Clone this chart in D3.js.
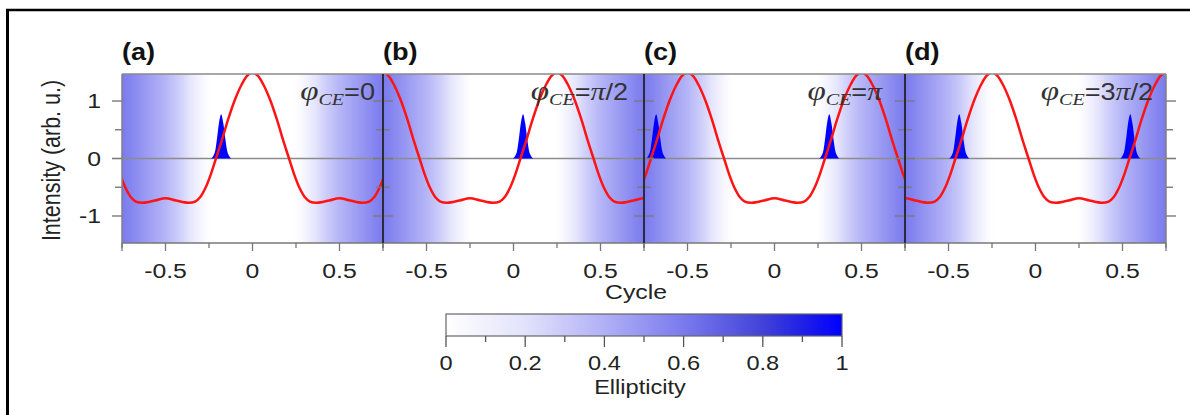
<!DOCTYPE html>
<html>
<head>
<meta charset="utf-8">
<script src="https://cdn.jsdelivr.net/npm/d3@7"></script>
<style>
  html, body { margin: 0; padding: 0; background: #fff; }
  text { font-family: Arial, "Liberation Sans", Helvetica, sans-serif; }
</style>
</head>
<body>
<svg id="fig" width="1190" height="415"></svg>
<script>
// ---- Data -------------------------------------------------------------
// One optical cycle of the driving field (phase in cycles, field in arb. u.)
const wavePhase = [-0.5, -0.44, -0.37, -0.33, -0.30, -0.27, -0.24, -0.21, -0.18, -0.14, -0.10, -0.06, -0.03, 0,
                   0.03, 0.06, 0.10, 0.14, 0.18, 0.21, 0.24, 0.27, 0.30, 0.33, 0.37, 0.44, 0.5];
const waveValue = [-0.69, -0.73, -0.77, -0.75, -0.67, -0.51, -0.28, 0, 0.28, 0.68, 1.03, 1.30, 1.44, 1.50,
                   1.44, 1.30, 1.03, 0.68, 0.28, 0, -0.28, -0.51, -0.67, -0.75, -0.77, -0.73, -0.69];

// Ellipticity of the gating field across the time window (cycles)
const gateCycle       = [-0.75, -0.70, -0.60, -0.50, -0.42, -0.36, -0.31, -0.27, -0.24, 0, 0.24, 0.27, 0.31, 0.36, 0.42, 0.50, 0.60, 0.70, 0.75];
const gateEllipticity = [0.60, 0.56, 0.47, 0.38, 0.28, 0.18, 0.09, 0.03, 0, 0, 0, 0.03, 0.09, 0.18, 0.28, 0.38, 0.47, 0.56, 0.60];

// Attosecond burst profile: offset from burst centre (cycles) and relative height
const burstOffset = [-0.058, -0.045, -0.034, -0.024, -0.012, 0, 0.012, 0.024, 0.034, 0.045, 0.058];
const burstShape  = [0, 0.06, 0.18, 0.45, 0.82, 1, 0.80, 0.44, 0.18, 0.06, 0];
const burstHeight = 0.77;

// Panels: carrier-envelope phase (fraction of a cycle) and burst centres
const panelTags   = ["(a)", "(b)", "(c)", "(d)"];
const panelShift  = [0, 0.25, 0.5, 0.75];
const panelBursts = [[-0.18], [0.055], [-0.68, 0.315], [-0.438, 0.545]];

// Axis ticks
const xTicks      = [-0.75, -0.5, -0.25, 0, 0.25, 0.5, 0.75];
const xTickLabels = [-0.5, 0, 0.5];
const yTicks      = [-1, -0.5, 0, 0.5, 1];
const yTickLabels = [-1, 0, 1];
const cbTicks      = [0, 0.1, 0.2, 0.3, 0.4, 0.5, 0.6, 0.7, 0.8, 0.9, 1];
const cbTickLabels = [0, 0.2, 0.4, 0.6, 0.8, 1];

// ---- Layout -------------------------------------------------------------
const svg = d3.select("#fig");
const plotTop = 74, plotBottom = 243;
const firstLeft = 122, panelW = 261;
const SX = 1.18; // horizontal text stretch of the figure

const y = d3.scaleLinear().domain([-1.47, 1.47]).range([plotBottom, plotTop]);
const xScales = panelTags.map((_, i) =>
  d3.scaleLinear().domain([-0.75, 0.75]).range([firstLeft + i * panelW, firstLeft + (i + 1) * panelW]));

// Ellipticity colour map (white -> blue)
const ellColor = d3.scaleLinear()
  .domain([0, 0.2, 0.4, 0.6, 0.8, 0.9, 1])
  .range(["#ffffff", "#e2e2fc", "#b0b0f6", "#7a7aee", "#4242d8", "#2020e6", "#0000ff"]);

// plain ASCII hyphen for negative tick labels
const num = v => String(v);

function txt(g, x, yy, str, size, anchor, extra) {
  const t = g.append("text")
    .attr("transform", `translate(${x},${yy}) scale(${SX},1)`)
    .attr("text-anchor", anchor || "middle")
    .attr("font-size", size)
    .attr("fill", "#222")
    .text(str);
  if (extra) extra(t);
  return t;
}

// Outer frame
svg.append("rect").attr("x", 0).attr("y", 0).attr("width", 1190).attr("height", 415).attr("fill", "#fff");
svg.append("line").attr("x1", 7.5).attr("x2", 7.5).attr("y1", 9).attr("y2", 415)
  .attr("stroke", "#000").attr("stroke-width", 3);
svg.append("line").attr("x1", 6).attr("x2", 1190).attr("y1", 10).attr("y2", 10)
  .attr("stroke", "#000").attr("stroke-width", 2.5);

const defs = svg.append("defs");

// ---- Panels -------------------------------------------------------------
panelTags.forEach((tag, i) => {
  const x = xScales[i];
  const g = svg.append("g");
  const [x0, x1] = x.range();

  // ellipticity background
  const grad = defs.append("linearGradient")
    .attr("id", "gate" + i).attr("gradientUnits", "userSpaceOnUse")
    .attr("x1", x0).attr("x2", x1).attr("y1", 0).attr("y2", 0);
  gateCycle.forEach((c, k) => {
    grad.append("stop").attr("offset", (x(c) - x0) / (x1 - x0)).attr("stop-color", ellColor(gateEllipticity[k]));
  });
  g.append("rect").attr("x", x0).attr("y", plotTop).attr("width", x1 - x0).attr("height", plotBottom - plotTop)
    .attr("fill", `url(#gate${i})`);

  defs.append("clipPath").attr("id", "clip" + i)
    .append("rect").attr("x", x0).attr("y", plotTop).attr("width", x1 - x0).attr("height", plotBottom - plotTop);

  // zero line
  g.append("line").attr("x1", x0).attr("x2", x1).attr("y1", y(0)).attr("y2", y(0))
    .attr("stroke", "#8c8c8c").attr("stroke-width", 1.6);

  // bursts
  const burstArea = d3.area()
    .x(d => x(d[0])).y0(y(0)).y1(d => y(d[1]))
    .curve(d3.curveMonotoneX);
  panelBursts[i].forEach(c => {
    const pts = burstOffset.map((o, k) => [c + o, burstHeight * burstShape[k]]);
    g.append("path").attr("d", burstArea(pts)).attr("fill", "#0000ff")
      .attr("clip-path", `url(#clip${i})`);
  });

  // driving field, tiled over the window with the panel's carrier phase
  const pts = [];
  for (let k = -2; k <= 2; k++) {
    for (let j = 0; j < wavePhase.length - 1; j++) {
      const t = wavePhase[j] + panelShift[i] + k;
      if (t > -1.0 && t < 1.0) pts.push([t, waveValue[j]]);
    }
  }
  pts.sort((a, b) => a[0] - b[0]);
  const line = d3.line().x(d => x(d[0])).y(d => y(d[1])).curve(d3.curveCatmullRom.alpha(0.5));
  g.append("path").attr("d", line(pts)).attr("fill", "none")
    .attr("stroke", "#ff1414").attr("stroke-width", 2.5)
    .attr("clip-path", `url(#clip${i})`);

  // frame top / bottom
  g.append("line").attr("x1", x0).attr("x2", x1).attr("y1", plotTop).attr("y2", plotTop)
    .attr("stroke", "#8a8a8a").attr("stroke-width", 1.5);
  g.append("line").attr("x1", x0).attr("x2", x1).attr("y1", plotBottom).attr("y2", plotBottom)
    .attr("stroke", "#777").attr("stroke-width", 1.5);

  // bottom ticks
  const ax = g.append("g").attr("transform", `translate(0,${plotBottom})`)
    .call(d3.axisBottom(x).tickValues(xTicks).tickSize(0).tickFormat(""));
  ax.select(".domain").remove();
  xTicks.forEach(v => {
    const major = xTickLabels.includes(v);
    g.append("line").attr("x1", x(v)).attr("x2", x(v))
      .attr("y1", plotBottom).attr("y2", plotBottom + (major ? 8 : 5))
      .attr("stroke", "#777").attr("stroke-width", 1.3);
  });
  xTickLabels.forEach(v => {
    txt(g, x(v), 278, num(v), 21);
  });

  // panel tag
  txt(g, x0, 60, tag, 23, "start", t => t.attr("font-weight", "bold").attr("fill", "#111"));
});

// ---- Vertical axes and separators ---------------------------------------
const yAxisLeft = d3.axisLeft(y).tickValues(yTicks).tickSize(0).tickFormat("");
svg.append("g").attr("transform", `translate(${firstLeft},0)`).call(yAxisLeft).select(".domain").remove();

for (let i = 0; i <= panelTags.length; i++) {
  const xb = firstLeft + i * panelW;
  const edge = i === 0 || i === panelTags.length;
  yTicks.forEach(v => {
    const major = yTickLabels.includes(v);
    const len = major ? 10 : 7;
    let xa, xz;
    if (i === 0) { xa = xb - len; xz = xb; }
    else if (i === panelTags.length) { xa = xb; xz = xb + len; }
    else { xa = xb - len; xz = xb + len; }
    svg.append("line").attr("x1", xa).attr("x2", xz).attr("y1", y(v)).attr("y2", y(v))
      .attr("stroke", "#7a7a7a").attr("stroke-width", v === 0 ? 1.6 : 1.4);
  });
  svg.append("line").attr("x1", xb).attr("x2", xb).attr("y1", plotTop).attr("y2", plotBottom)
    .attr("stroke", edge ? "#808080" : "#2a2a3a").attr("stroke-width", edge ? 1.5 : 2);
  svg.append("line").attr("x1", xb).attr("x2", xb).attr("y1", plotBottom).attr("y2", plotBottom + 8)
    .attr("stroke", "#777").attr("stroke-width", 1.3);
}

yTickLabels.forEach(v => {
  txt(svg, 101, y(v) + 7, num(v), 21, "end");
});

// Axis titles
svg.append("text")
  .attr("transform", `translate(60,${(plotTop + plotBottom) / 2 + 2}) rotate(-90) scale(1,${SX})`)
  .attr("text-anchor", "middle").attr("font-size", 21.5).attr("fill", "#222")
  .text("Intensity (arb. u.)");
txt(svg, 636, 299, "Cycle", 21);

// ---- CEP labels ----------------------------------------------------------
const cepLabels = [
  { x: 375, parts: [["=0", "sans"]] },
  { x: 628, parts: [["=", "sans"], ["π", "serif"], ["/2", "sans"]] },
  { x: 882, parts: [["=", "sans"], ["π", "serif"]] },
  { x: 1153, parts: [["=3", "sans"], ["π", "serif"], ["/2", "sans"]] }
];
cepLabels.forEach(lab => {
  const t = svg.append("text")
    .attr("transform", `translate(${lab.x},100) scale(${SX},1)`)
    .attr("text-anchor", "end").attr("fill", "#333");
  t.append("tspan").attr("font-family", "'Liberation Serif', 'Times New Roman', serif")
    .attr("font-style", "italic").attr("font-size", 28).text("φ");
  t.append("tspan").attr("font-family", "'Liberation Serif', 'Times New Roman', serif")
    .attr("font-style", "italic").attr("font-size", 17).attr("dy", 5).text("CE");
  lab.parts.forEach((p, k) => {
    const s = t.append("tspan").text(p[0]);
    if (k === 0) s.attr("dy", -5);
    if (p[1] === "serif") {
      s.attr("font-family", "'Liberation Serif', 'Times New Roman', serif").attr("font-style", "italic").attr("font-size", 25);
    } else {
      s.attr("font-family", "Arial, 'Liberation Sans', sans-serif").attr("font-size", 23);
    }
  });
});

// ---- Colour bar ------------------------------------------------------------
const cb = d3.scaleLinear().domain([0, 1]).range([446, 842]);
const cbGrad = defs.append("linearGradient").attr("id", "cbgrad")
  .attr("x1", 0).attr("x2", 1).attr("y1", 0).attr("y2", 0);
ellColor.domain().forEach((v, k) => {
  cbGrad.append("stop").attr("offset", v).attr("stop-color", ellColor.range()[k]);
});
svg.append("rect").attr("x", cb(0)).attr("y", 314).attr("width", cb(1) - cb(0)).attr("height", 22)
  .attr("fill", "url(#cbgrad)").attr("stroke", "#666").attr("stroke-width", 1.2);
const cbg = svg.append("g").attr("transform", "translate(0,336)")
  .call(d3.axisBottom(cb).tickValues(cbTicks).tickSize(0).tickFormat(""));
cbg.select(".domain").remove();
cbTicks.forEach(v => {
  const major = cbTickLabels.some(m => Math.abs(m - v) < 1e-9);
  svg.append("line").attr("x1", cb(v)).attr("x2", cb(v)).attr("y1", 336).attr("y2", 336 + (major ? 11 : 6))
    .attr("stroke", "#555").attr("stroke-width", 1.3);
});
cbTickLabels.forEach(v => {
  txt(svg, cb(v), 370, num(v), 20);
});
txt(svg, 640, 394, "Ellipticity", 20);
</script>
</body>
</html>
